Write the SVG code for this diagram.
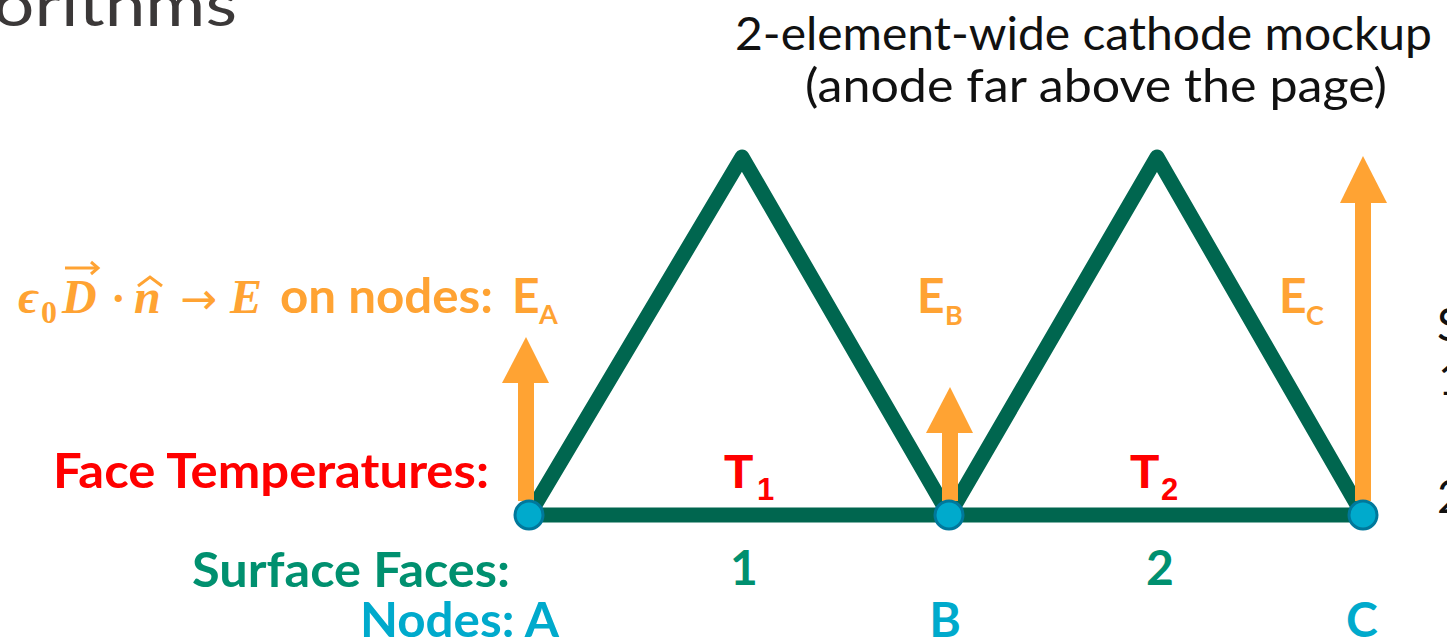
<svg xmlns="http://www.w3.org/2000/svg" width="1447" height="642" viewBox="0 0 1447 642">
  <style>
    .lbl { font-family: Lato, "Open Sans", "Liberation Sans", sans-serif; font-weight: bold; font-size: 48px; }
    .sub { font-size: 27px; }
    .title { font-family: Lato, "Liberation Sans", sans-serif; font-size: 46px; fill: #111111; }
    .math { font-family: "Liberation Serif", "DejaVu Serif", serif; font-weight: bold; font-style: italic; font-size: 48px; fill: #FFA333; }
    .orange { fill: #FFA333; }
    .red { fill: #FF0000; }
    .teal { fill: #00906F; }
    .cyan { fill: #00AACC; }
    .tl { font-family: "Liberation Sans", Arial, sans-serif; font-weight: bold; fill: #FF0000; }
    .edge { stroke: #00664F; stroke-width: 15; fill: none; stroke-linejoin: round; stroke-linecap: butt; }
    .node { fill: #00AACC; stroke: #00789B; stroke-width: 3; }
    .shaft { fill: #FFA333; }
  </style>

  <!-- header texts -->
  <text x="-7" y="26" font-family="Lato, 'Liberation Sans', sans-serif" font-size="60" fill="#3B3838" textLength="244" lengthAdjust="spacingAndGlyphs">orithms</text>
  <text class="title" x="735" y="50" textLength="697" lengthAdjust="spacingAndGlyphs">2-element-wide cathode mockup</text>
  <text class="title" x="805" y="102" textLength="582" lengthAdjust="spacingAndGlyphs">(anode far above the page)</text>

  <!-- clipped list at right edge -->
  <text class="title" x="1437" y="341">S</text>
  <text class="title" x="1438" y="395">1</text>
  <text class="title" x="1437" y="513">2</text>

  <!-- connectors: mesh edges -->
  <g id="connectors">
    <polyline class="edge" points="529,515 742,157 949,515 1157,157 1363,515"/>
    <line class="edge" x1="529" y1="515" x2="1363" y2="515"/>
  </g>

  <!-- field arrows -->
  <g id="arrow-A">
    <rect class="shaft" x="518" y="381" width="16" height="120"/>
    <polygon class="orange" points="502,383 549,383 526,337"/>
  </g>
  <g id="arrow-B">
    <rect class="shaft" x="942" y="431" width="16" height="70"/>
    <polygon class="orange" points="926,433 973,433 950,387"/>
  </g>
  <g id="arrow-C">
    <rect class="shaft" x="1355" y="201" width="16" height="300"/>
    <polygon class="orange" points="1340,203 1387,203 1363,156"/>
  </g>

  <!-- nodes -->
  <g id="node-A"><circle class="node" cx="529" cy="515" r="14"/></g>
  <g id="node-B"><circle class="node" cx="949" cy="515" r="14"/></g>
  <g id="node-C"><circle class="node" cx="1363" cy="515" r="14"/></g>

  <!-- E label -->
  <g id="e-label">
    <text class="math" x="18" y="313" font-size="46">ϵ</text>
    <text x="41" y="323" font-family="'Liberation Serif', serif" font-weight="bold" font-size="32" class="orange">0</text>
    <text class="math" x="62" y="313">D</text>
    <line x1="65" y1="268" x2="97" y2="268" stroke="#FFA333" stroke-width="3"/>
    <polyline points="91,262 98,268 91,274" fill="none" stroke="#FFA333" stroke-width="3"/>
    <text x="111" y="313" font-family="'Liberation Serif', serif" font-weight="bold" font-size="44" class="orange">·</text>
    <text class="math" x="134" y="313">n</text>
    <polyline points="138,286 150,277 162,286" fill="none" stroke="#FFA333" stroke-width="3"/>
    <text x="180" y="314" font-family="'DejaVu Sans', sans-serif" font-size="44" class="orange" textLength="37" lengthAdjust="spacingAndGlyphs">→</text>
    <text class="math" x="230" y="313">E</text>
    <text class="lbl orange" x="280" y="313" textLength="213" lengthAdjust="spacingAndGlyphs">on nodes:</text>
    <text class="lbl orange" x="512" y="313">E</text>
    <text class="lbl orange sub" x="539" y="324">A</text>
  </g>
  <g id="e-B">
    <text class="lbl orange" x="917" y="313">E</text>
    <text class="lbl orange sub" x="945" y="325">B</text>
  </g>
  <g id="e-C">
    <text class="lbl orange" x="1279" y="313">E</text>
    <text class="lbl orange sub" x="1306" y="325">C</text>
  </g>

  <!-- face temperatures -->
  <g id="face-temps">
    <text class="lbl red" x="53" y="488" textLength="436" lengthAdjust="spacingAndGlyphs">Face Temperatures:</text>
    <text class="tl" x="724" y="488" font-size="48">T</text>
    <text class="tl" x="757" y="500" font-size="31">1</text>
    <text class="tl" x="1130" y="488" font-size="48">T</text>
    <text class="tl" x="1161" y="500" font-size="31">2</text>
  </g>

  <!-- surface faces -->
  <g id="surface-faces">
    <text class="lbl teal" x="192" y="587" textLength="318" lengthAdjust="spacingAndGlyphs">Surface Faces:</text>
    <text class="lbl teal" x="744" y="585" text-anchor="middle">1</text>
    <text class="lbl teal" x="1160" y="585" text-anchor="middle">2</text>
  </g>

  <!-- node labels -->
  <g id="node-labels">
    <text class="lbl cyan" x="360" y="637" textLength="199" lengthAdjust="spacingAndGlyphs">Nodes: A</text>
    <text class="lbl cyan" x="945" y="637" text-anchor="middle">B</text>
    <text class="lbl cyan" x="1362" y="637" text-anchor="middle">C</text>
  </g>
</svg>
